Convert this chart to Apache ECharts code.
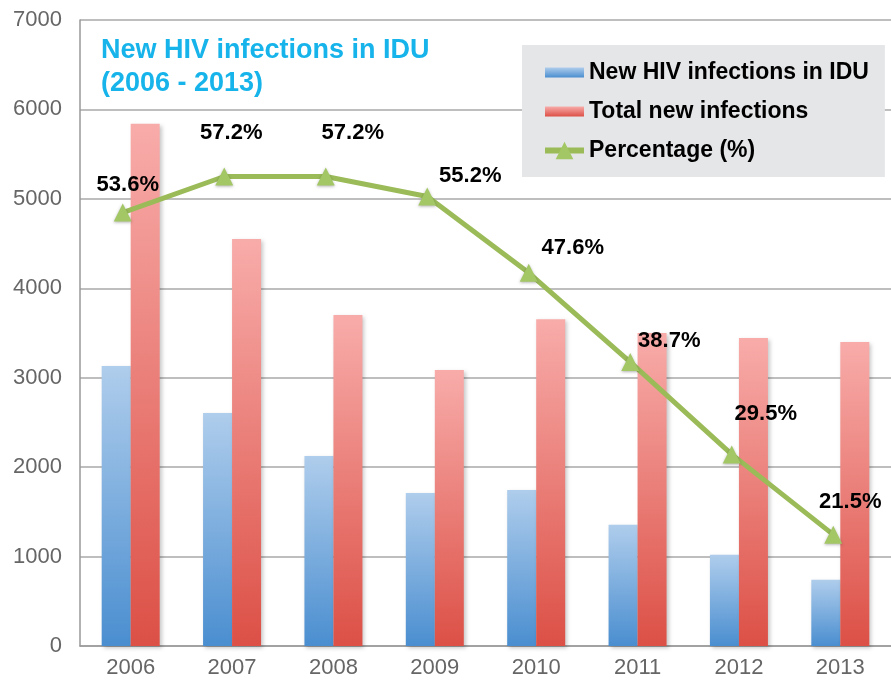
<!DOCTYPE html>
<html>
<head>
<meta charset="utf-8">
<script src="https://cdn.jsdelivr.net/npm/echarts@6/dist/echarts.min.js"></script>
<style>
html, body { margin: 0; padding: 0; background: #fff; }
#main { width: 891px; height: 684px; }
</style>
</head>
<body>
<div id="main"></div>
<script>
// data
var years = ['2006', '2007', '2008', '2009', '2010', '2011', '2012', '2013'];
var iduInfections = [3130, 2605, 2125, 1710, 1745, 1355, 1020, 740];
var totalInfections = [5840, 4550, 3700, 3085, 3655, 3500, 3445, 3400];
var percentage = [53.6, 57.2, 57.2, 55.2, 47.6, 38.7, 29.5, 21.5];

// where each percentage label sits relative to its point (layout only)
var labelOffsets = [[5, -28], [7, -44], [27, -44], [43, -21], [44, -25], [39, -21], [34, -40], [17, -33]];

var FONT = '"Liberation Sans", Arial, sans-serif';

var dom = document.getElementById('main');
var myChart = echarts.init(dom);

function grad(top, bottom) {
    return new echarts.graphic.LinearGradient(0, 0, 0, 1, [
        { offset: 0, color: top },
        { offset: 1, color: bottom }
    ]);
}

var barShadow = {
    shadowBlur: 4,
    shadowOffsetX: 2,
    shadowOffsetY: 2,
    shadowColor: 'rgba(0,0,0,0.22)'
};

var pctData = percentage.map(function (v, i) {
    return {
        value: v,
        label: { offset: labelOffsets[i] }
    };
});

var BAR_ICON = 'path://M0 0H39V10H0Z';

var option = {
    animation: false,
    title: {
        text: 'New HIV infections in IDU\n(2006 - 2013)',
        left: 96,
        top: 29,
        textStyle: {
            fontFamily: FONT,
            fontSize: 27,
            fontWeight: 'bold',
            color: '#16b4ea',
            lineHeight: 33
        }
    },
    legend: {
        orient: 'vertical',
        left: 522,
        top: 45,
        backgroundColor: '#e5e6e8',
        padding: [16, 16, 15, 20],
        itemWidth: 39,
        itemHeight: 22,
        itemGap: 16,
        lineStyle: { width: 6 },
        textStyle: {
            fontFamily: FONT,
            fontSize: 23,
            fontWeight: 'bold',
            color: '#000'
        },
        data: [
            { name: 'New HIV infections in IDU', icon: BAR_ICON },
            { name: 'Total new infections', icon: BAR_ICON },
            { name: 'Percentage (%)' }
        ]
    },
    grid: [
        { left: 80, right: -5, top: 20, bottom: 38 },
        { left: 72, right: 7, top: 20, bottom: 38 }
    ],
    xAxis: [
        {
            type: 'category',
            gridIndex: 0,
            data: years,
            axisTick: { show: false },
            axisLine: { lineStyle: { color: '#999', width: 1.5 } },
            axisLabel: {
                fontFamily: FONT,
                fontSize: 22,
                color: '#666',
                margin: 11
            }
        },
        {
            type: 'category',
            gridIndex: 1,
            data: years,
            show: false
        }
    ],
    yAxis: [
        {
            type: 'value',
            gridIndex: 0,
            min: 0,
            max: 7000,
            interval: 1000,
            axisLine: { show: true, lineStyle: { color: '#999', width: 1.5 } },
            axisTick: { show: false },
            splitLine: { lineStyle: { color: '#a8a8a8', width: 1.5 } },
            axisLabel: {
                fontFamily: FONT,
                fontSize: 22,
                color: '#666',
                margin: 18,
                formatter: function (v) { return String(v); }
            }
        },
        {
            type: 'value',
            gridIndex: 1,
            min: 10.4,
            max: 72.8,
            show: false,
            splitLine: { show: false }
        }
    ],
    series: [
        {
            name: 'New HIV infections in IDU',
            type: 'bar',
            xAxisIndex: 0,
            yAxisIndex: 0,
            barWidth: 29,
            barGap: '0%',
            itemStyle: Object.assign({ color: grad('#afcdec', '#4a8ed0') }, barShadow),
            data: iduInfections
        },
        {
            name: 'Total new infections',
            type: 'bar',
            xAxisIndex: 0,
            yAxisIndex: 0,
            barWidth: 29,
            barGap: '0%',
            itemStyle: Object.assign({ color: grad('#f8acaa', '#dc5046') }, barShadow),
            data: totalInfections
        },
        {
            name: 'Percentage (%)',
            type: 'line',
            xAxisIndex: 1,
            yAxisIndex: 1,
            z: 5,
            symbol: 'triangle',
            symbolSize: 18,
            lineStyle: { color: '#9bbb59', width: 5 },
            itemStyle: {
                color: '#a3c764',
                shadowBlur: 3,
                shadowOffsetY: 1,
                shadowColor: 'rgba(0,0,0,0.3)'
            },
            label: {
                show: true,
                position: 'inside',
                fontFamily: FONT,
                fontSize: 22,
                fontWeight: 'bold',
                color: '#000',
                formatter: '{c}%'
            },
            data: pctData
        }
    ]
};

myChart.setOption(option);
</script>
</body>
</html>
